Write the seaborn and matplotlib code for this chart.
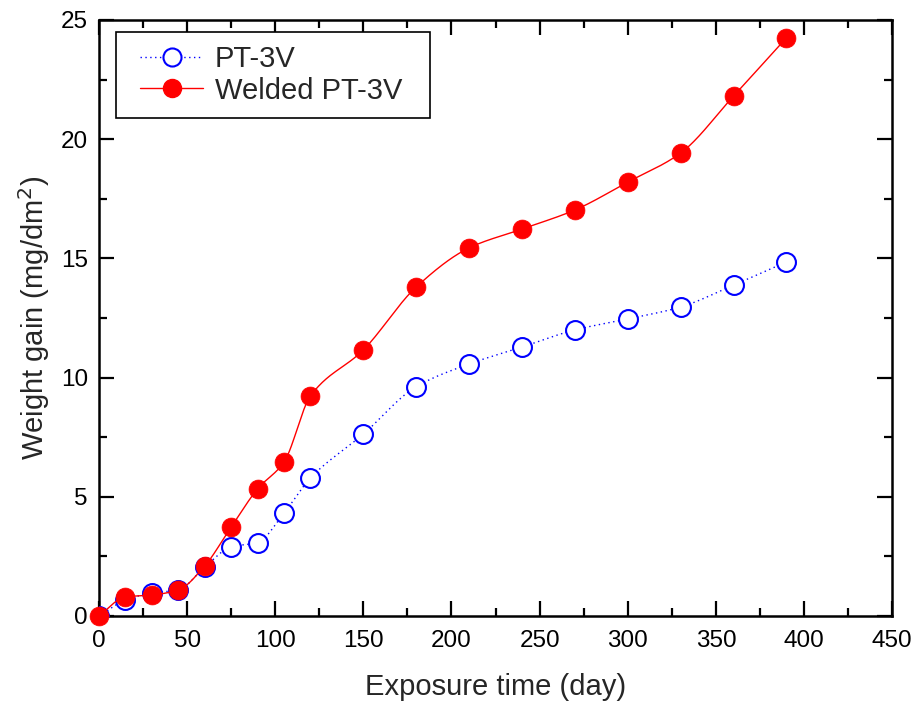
import numpy as np
import pandas as pd
import seaborn as sns
import matplotlib.pyplot as plt
from matplotlib.lines import Line2D
from matplotlib.legend_handler import HandlerLine2D
from matplotlib.ticker import MultipleLocator

# exposure time (day)
days = [0, 15, 30, 45, 60, 75, 90, 105, 120, 150, 180, 210, 240, 270, 300, 330, 360, 390]
# weight gain (mg/dm2)
pt3v = [0.0, 0.67, 0.96, 1.09, 2.05, 2.9, 3.08, 4.32, 5.79, 7.63, 9.62, 10.57, 11.28, 12.0,
        12.46, 12.96, 13.88, 14.85]
welded = [0.0, 0.8, 0.88, 1.09, 2.1, 3.73, 5.33, 6.46, 9.23, 11.16, 13.8, 15.44, 16.23, 17.03,
          18.2, 19.42, 21.81, 24.25]


def smooth(x, y, n=40):
    # monotone cubic (pchip) curve through the points, only for drawing the line
    x = np.asarray(x, float)
    y = np.asarray(y, float)
    h = np.diff(x)
    d = np.diff(y) / h
    m = np.zeros_like(y)
    for i in range(1, len(x) - 1):
        if d[i - 1] * d[i] > 0:
            w1 = 2 * h[i] + h[i - 1]
            w2 = h[i] + 2 * h[i - 1]
            m[i] = (w1 + w2) / (w1 / d[i - 1] + w2 / d[i])
    m[0] = d[0]
    m[-1] = d[-1]
    xs, ys = [], []
    for i in range(len(x) - 1):
        t = np.linspace(0, 1, n, endpoint=(i == len(x) - 2))
        h00 = 2 * t**3 - 3 * t**2 + 1
        h10 = t**3 - 2 * t**2 + t
        h01 = -2 * t**3 + 3 * t**2
        h11 = t**3 - t**2
        xs.append(x[i] + t * h[i])
        ys.append(h00 * y[i] + h10 * h[i] * m[i] + h01 * y[i + 1] + h11 * h[i] * m[i + 1])
    return np.concatenate(xs), np.concatenate(ys)


sns.set_style("ticks")
plt.rcParams['font.family'] = ['Liberation Sans', 'DejaVu Sans']

fig = plt.figure(figsize=(9.16, 7.06), dpi=100)
ax = fig.add_axes([0.108, 0.1275, 0.866, 0.8442])

df = pd.DataFrame({'day': days, 'PT-3V': pt3v, 'Welded PT-3V': welded})

xs, ys = smooth(df['day'], df['PT-3V'])
sns.lineplot(x=xs, y=ys, ax=ax, color='blue', lw=1, linestyle=(0, (1, 2.5)), estimator=None, sort=False)
sns.scatterplot(data=df, x='day', y='PT-3V', ax=ax, s=185, marker='o', facecolor='white',
                edgecolor='blue', linewidth=1.5, zorder=3)
xs, ys = smooth(df['day'], df['Welded PT-3V'])
sns.lineplot(x=xs, y=ys, ax=ax, color='red', lw=1, estimator=None, sort=False, zorder=4)
sns.scatterplot(data=df, x='day', y='Welded PT-3V', ax=ax, s=185, marker='o', color='red',
                edgecolor='red', linewidth=0.5, zorder=5, clip_on=False)

ax.set_xlim(0, 450)
ax.set_ylim(0, 25)
ax.xaxis.set_major_locator(MultipleLocator(50))
ax.xaxis.set_minor_locator(MultipleLocator(25))
ax.yaxis.set_major_locator(MultipleLocator(5))
ax.yaxis.set_minor_locator(MultipleLocator(2.5))
ax.tick_params(which='both', direction='in', top=True, right=True, width=1.6, colors='black',
               labelsize=17.5)
ax.tick_params(which='major', length=11)
ax.tick_params(which='minor', length=6)
ax.tick_params(axis='x', pad=10)
ax.tick_params(axis='y', pad=8)
for s in ax.spines.values():
    s.set_linewidth(1.8)
    s.set_color('black')

ax.set_xlabel('Exposure time (day)', fontsize=21, labelpad=15)
ax.set_ylabel('Weight gain (mg/dm$^2$)', fontsize=21, labelpad=6)

handles = [
    Line2D([], [], color='blue', lw=1, linestyle=(0, (1, 2.5)), marker='o', markersize=13,
           markerfacecolor='white', markeredgecolor='blue', markeredgewidth=1.5),
    Line2D([], [], color='red', lw=1, marker='o', markersize=13, markerfacecolor='red',
           markeredgecolor='red'),
]
leg = ax.legend(handles, ['PT-3V', 'Welded PT-3V\u2002'], loc='upper left',
                bbox_to_anchor=(0.021, 0.98), fontsize=21, frameon=True, fancybox=False,
                edgecolor='black', framealpha=1, handlelength=2.55, borderpad=0.45,
                labelspacing=0.12, handletextpad=0.4, borderaxespad=0,
                handler_map={Line2D: HandlerLine2D(xpad=0.39)})
leg.get_frame().set_linewidth(1.2)

plt.savefig('out.png', dpi=100)
